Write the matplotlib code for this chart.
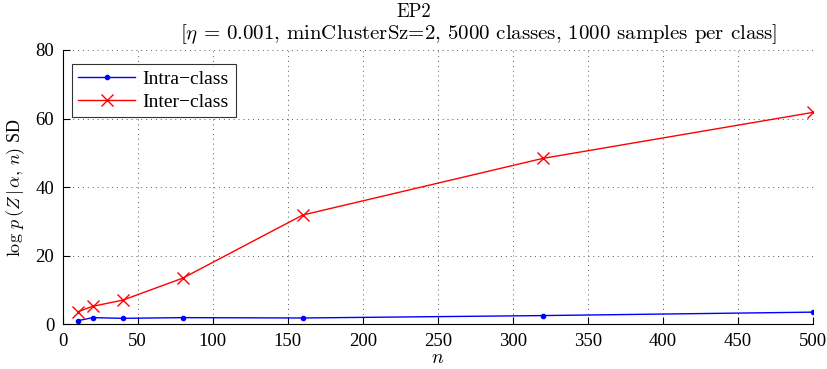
import matplotlib.pyplot as plt

plt.rcParams['font.family'] = ['Liberation Serif', 'DejaVu Serif']
plt.rcParams['mathtext.fontset'] = 'cm'

# number of samples n
n_vals = [10, 20, 40, 80, 160, 320, 500]
# SD of log p(Z|alpha,n)
intra_sd = [1.1, 2.0, 1.8, 2.0, 1.9, 2.6, 3.6]
inter_sd = [3.7, 5.3, 7.1, 13.5, 31.9, 48.4, 61.8]

fig = plt.figure(figsize=(8.27, 3.69), dpi=100)
ax = fig.add_axes([0.0758, 0.1206, 0.9069, 0.7439])

ax.plot(n_vals, intra_sd, color='blue', lw=1.0, marker='.', ms=6, label='Intra\u2212class')
ax.plot(n_vals, inter_sd, color='red', lw=1.0, marker='x', ms=8, mew=1.0, label='Inter\u2212class')

ax.set_xlim(0, 500)
ax.set_ylim(0, 80)
ax.set_xticks(range(0, 501, 50))
ax.set_yticks(range(0, 81, 20))
ax.tick_params(direction='in', labelsize=13.5, length=5, width=0.8, pad=6)
ax.spines['top'].set_visible(False)
ax.spines['right'].set_visible(False)
ax.grid(True, linestyle=(0, (1, 4)), color='0.35', lw=0.7)

ax.set_xlabel(r'$n$', fontsize=14, labelpad=0)
ax.set_ylabel(r'$\log\,p\,(Z\,|\,\alpha,\,n)$ SD', fontsize=13, labelpad=6)

fig.text(0.5, 0.968, 'EP2', ha='center', va='center', fontsize=13.5, family='cmr10')
fig.text(0.579, 0.908,
         r'[$\eta$ = 0.001, minClusterSz=2, 5000 classes, 1000 samples per class]',
         ha='center', va='center', fontsize=15, family='cmr10')

leg = ax.legend(loc='upper left', fontsize=14, frameon=True, fancybox=False,
                edgecolor='black', borderpad=0.35, handlelength=2.9, handletextpad=0.4,
                bbox_to_anchor=(0.012, 0.95), labelspacing=0.25, borderaxespad=0.0)
leg.get_frame().set_linewidth(0.8)

fig.savefig('out.png', dpi=100)
